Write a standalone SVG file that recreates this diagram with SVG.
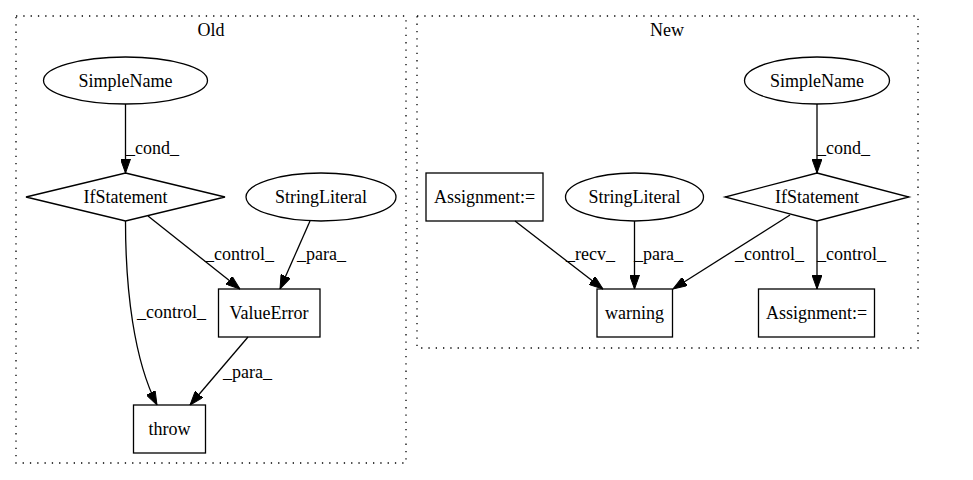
<svg xmlns="http://www.w3.org/2000/svg" width="973" height="480" viewBox="0 0 973 480">
<style>
text{font-family:"Liberation Serif","Times New Roman",serif;font-size:18px;fill:#000}
.n{fill:none;stroke:#000;stroke-width:1.3}
.c{fill:none;stroke:#000;stroke-width:1.3;stroke-dasharray:1.3,6}
.e{fill:none;stroke:#000;stroke-width:1.3;marker-end:url(#ah)}
.m{text-anchor:middle}
</style>
<defs>
<marker id="ah" viewBox="0 0 14 10" refX="14" refY="5" markerWidth="14" markerHeight="10" markerUnits="userSpaceOnUse" orient="auto">
<path d="M0,0 L14,5 L0,10 z" fill="#000" stroke="#000"/>
</marker>
</defs>
<rect width="973" height="480" fill="#fff"/>
<g id="cluster_old">
<rect class="c" x="16" y="16" width="390" height="447"/>
<text class="m" x="211" y="36">Old</text>
</g>
<g id="cluster_new">
<rect class="c" x="417" y="16" width="501" height="332"/>
<text class="m" x="667" y="36">New</text>
</g>
<g id="connectors">
<path class="e" d="M125.5,104 L125.5,173"/>
<text x="126" y="154">_cond_</text>
<path class="e" d="M148,216 L240,289"/>
<text x="205" y="260">_control_</text>
<path class="e" d="M310,221 L280,289"/>
<text x="297" y="260">_para_</text>
<path class="e" d="M125.5,221 C125.5,290 134,360 157,405"/>
<text x="137" y="318">_control_</text>
<path class="e" d="M248,337 L190,405"/>
<text x="223" y="378">_para_</text>
<path class="e" d="M817,104 L817,173"/>
<text x="817" y="154">_cond_</text>
<path class="e" d="M515,221 L603,289"/>
<text x="566" y="260">_recv_</text>
<path class="e" d="M634.5,221 L634.5,289"/>
<text x="634" y="260">_para_</text>
<path class="e" d="M790,215 L673,289"/>
<text x="735" y="260">_control_</text>
<path class="e" d="M817,221 L817,289"/>
<text x="817" y="260">_control_</text>
</g>
<g id="old_simplename">
<ellipse class="n" cx="125.5" cy="80.5" rx="82" ry="23.5"/>
<text class="m" x="125.5" y="86.5">SimpleName</text>
</g>
<g id="old_ifstatement">
<polygon class="n" points="125.5,173 225,197 125.5,221 26,197"/>
<text class="m" x="125.5" y="203">IfStatement</text>
</g>
<g id="old_stringliteral">
<ellipse class="n" cx="321" cy="197" rx="75" ry="24"/>
<text class="m" x="321" y="203">StringLiteral</text>
</g>
<g id="old_valueerror">
<rect class="n" x="218.5" y="289" width="101.5" height="48"/>
<text class="m" x="269" y="319">ValueError</text>
</g>
<g id="old_throw">
<rect class="n" x="133.5" y="405" width="72" height="48"/>
<text class="m" x="169.5" y="435">throw</text>
</g>
<g id="new_simplename">
<ellipse class="n" cx="817" cy="80.5" rx="72.5" ry="23.5"/>
<text class="m" x="817" y="86.5">SimpleName</text>
</g>
<g id="new_ifstatement">
<polygon class="n" points="817,173 909,197 817,221 725,197"/>
<text class="m" x="817" y="203">IfStatement</text>
</g>
<g id="new_stringliteral">
<ellipse class="n" cx="634.5" cy="197" rx="69" ry="24"/>
<text class="m" x="634.5" y="203">StringLiteral</text>
</g>
<g id="new_assignment1">
<rect class="n" x="426" y="173" width="117" height="48"/>
<text class="m" x="484.5" y="203">Assignment:=</text>
</g>
<g id="new_warning">
<rect class="n" x="597" y="289" width="75.5" height="48"/>
<text class="m" x="634.5" y="319">warning</text>
</g>
<g id="new_assignment2">
<rect class="n" x="758.5" y="289" width="116" height="48"/>
<text class="m" x="816.5" y="319">Assignment:=</text>
</g>
</svg>
